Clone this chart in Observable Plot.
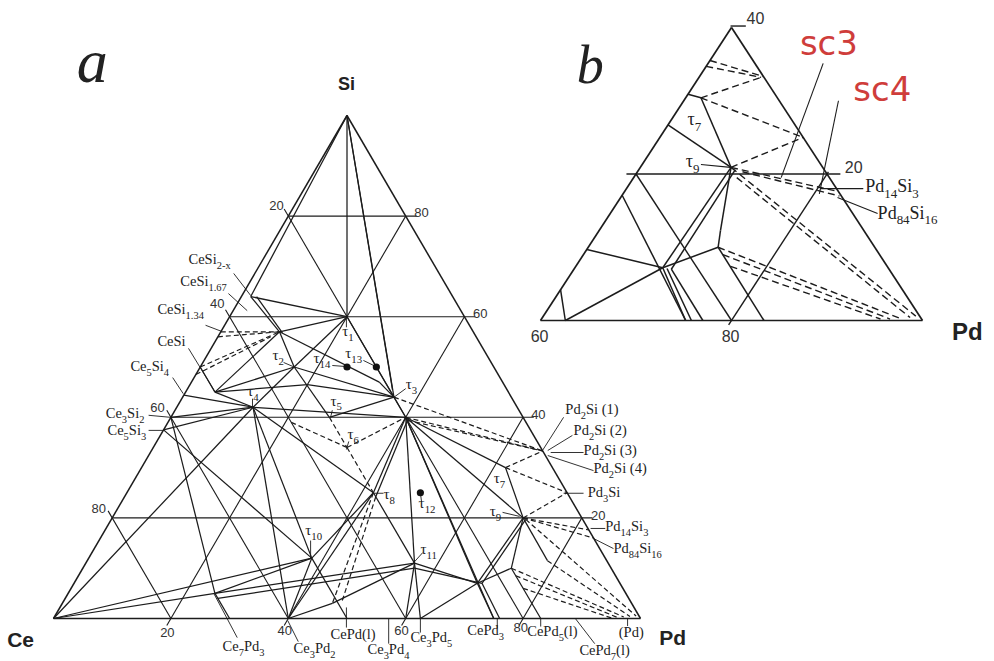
<!DOCTYPE html>
<html><head><meta charset="utf-8">
<script src="https://cdn.jsdelivr.net/npm/d3@7"></script>
<script src="https://cdn.jsdelivr.net/npm/@observablehq/plot@0.6"></script>
<style>
html,body{margin:0;padding:0;background:#fff;}
#wrap{position:relative;width:994px;height:661px;overflow:hidden;background:#fff;}
#wrap svg{position:absolute;left:0;top:0;}
</style></head><body><div id="wrap"></div>
<script>
// ================= DATA (compositions in at.% : pd, si ; Ce = rest) =================
const gridLevels = [20, 40, 60, 80];
const corners = [{id:"Ce",pd:0,si:0},{id:"Pd",pd:100,si:0},{id:"Si",pd:0,si:100}];
const ceSiPhases = [
  {id:"CeSi2x",pd:0,si:64.5},{id:"CeSi167",pd:0,si:62.5},{id:"CeSi134",pd:0,si:57},
  {id:"CeSi",pd:0,si:50},{id:"Ce5Si4",pd:0,si:44.4},{id:"Ce3Si2",pd:0,si:40},{id:"Ce5Si3",pd:0,si:37.5}];
const cePdPhases = [
  {id:"Ce7Pd3",pd:30,si:0},{id:"Ce3Pd2",pd:40,si:0},{id:"CePd",pd:50,si:0},{id:"Ce3Pd4",pd:57,si:0},
  {id:"B60",pd:60,si:0},{id:"Ce3Pd5",pd:62.5,si:0},{id:"CePd3",pd:75,si:0},{id:"CePd3b",pd:76,si:0},
  {id:"CePd5",pd:83,si:0},{id:"CePd7",pd:87.5,si:0},{id:"PdSS",pd:98,si:0}];
const pdSiPhases = [
  {id:"Pd2Si",pd:66.7,si:33.3},{id:"Pd3Si",pd:75,si:25},{id:"Pd14Si3",pd:82.4,si:17.6},{id:"Pd84Si16",pd:84,si:16}];
const tauPhases = [
  {id:"τ1",pd:20,si:60},{id:"τ2",pd:16,si:50},{id:"τ3",pd:36,si:44},{id:"τ4",pd:13,si:42},
  {id:"τ5",pd:27,si:40},{id:"τ6",pd:33,si:34},{id:"τ7",pd:62,si:30},{id:"τ8",pd:42,si:25},
  {id:"τ9",pd:70,si:20},{id:"τ10",pd:38,si:12},{id:"τ11",pd:56,si:11},{id:"τ12",pd:50,si:25},
  {id:"τ13",pd:30,si:50},{id:"τ14",pd:25,si:50},{id:"CePd2Si2",pd:40,si:40}];
const isolatedTau = ["τ12","τ13","τ14"];
// junction points of tie-lines
const nodesA = [
  {id:"S1",pd:1.6,si:64},{id:"S1b",pd:2.6,si:64},{id:"P1",pd:10,si:57},{id:"P1b",pd:10.6,si:56.8},
  {id:"P2",pd:5,si:45},{id:"P3",pd:20,si:46.5},{id:"P4",pd:32,si:47},
  {id:"N1",pd:68.7,si:7},{id:"N1b",pd:69.5,si:7},{id:"N2",pd:73,si:10},{id:"N2b",pd:74.5,si:8.5},{id:"N2c",pd:77,si:6},
  {id:"N3",pd:25,si:5},{id:"N3b",pd:26,si:4},{id:"N4",pd:46,si:3},{id:"N4b",pd:47.5,si:3.2},
  {id:"W1",pd:78.4,si:11.5},{id:"T3b",pd:35,si:45.5},{id:"T8b",pd:42.8,si:24.2},{id:"T9b",pd:70.6,si:19.7},
  {id:"T11b",pd:56.5,si:10},{id:"A2",pd:40.6,si:39.4},{id:"G1",pd:21,si:39},
  {id:"L1",pd:0,si:56},{id:"L2",pd:0,si:48.5},{id:"L3",pd:9,si:56},
  {id:"C1",pd:97,si:0.3},{id:"C2",pd:96,si:0.2},{id:"C3",pd:95,si:0.1},{id:"C4",pd:98,si:0.4},{id:"C5",pd:99,si:0.5}];
const solidA = [
  ["Si","τ1"],["Si","τ3"],["Si","T3b"],["Si","S1"],
  ["S1","τ1"],["S1","P1"],["S1b","P1b"],["P1","τ1"],["P1","τ2"],["τ2","τ5"],["P1","P4"],["P4","τ3"],["P1","P2"],
  ["CeSi","P2"],["P2","τ2"],["P2","τ4"],["P2","P3"],["P3","τ3"],
  ["Ce5Si4","τ4"],["Ce3Si2","τ4"],["Ce5Si3","τ4"],["Ce","τ4"],
  ["τ4","τ2"],["τ4","CePd2Si2"],["τ4","τ8"],["τ4","τ10"],["τ4","Ce3Pd2"],
  ["τ1","τ2"],["τ1","τ3"],["τ2","τ3"],["τ3","CePd2Si2"],["τ5","τ3"],
  ["τ8","CePd2Si2"],["T8b","A2"],["τ8","τ10"],["τ8","τ11"],["τ8","Ce3Pd2"],
  ["Ce","τ10"],["Ce5Si3","τ10"],["Ce3Si2","N3"],["τ10","Ce3Pd2"],["τ10","CePd"],["τ10","N3"],
  ["Ce","N3"],["N3","τ11"],["N3b","T11b"],["N3","Ce7Pd3"],["N4","τ11"],["Ce3Pd2","N4"],
  ["CePd2Si2","τ11"],["τ11","B60"],["τ11","Ce3Pd5"],["τ11","N1"],["T11b","N1b"],
  ["CePd2Si2","τ7"],["CePd2Si2","τ9"],["CePd2Si2","N1"],["CePd2Si2","CePd3"],
  ["τ7","τ9"],["τ9","N1"],["T9b","N1b"],["τ9","N2"],["N1","CePd3"],["N1b","CePd3b"],
  ["N2","CePd5"],["N1","N2"],["Ce3Pd5","N1"],["τ9","W1"]];
const dashedA = [
  ["CeSi134","P1"],["L1","P1"],["CeSi","P1"],["L2","L3"],
  ["τ5","τ6"],["G1","τ6"],["τ6","CePd2Si2"],["τ6","τ8"],["τ8","N4"],["T8b","N4b"],
  ["CePd2Si2","Pd2Si"],["A2","Pd2Si"],["τ3","Pd2Si"],
  ["τ7","Pd2Si"],["τ7","Pd3Si"],["τ9","Pd3Si"],["τ9","Pd14Si3"],["τ9","Pd84Si16"],
  ["N2","C1"],["N2b","C2"],["N2c","C3"],["W1","C4"],["T9b","C5"]];
// panel b : enlarged Pd-rich corner (Pd 60-100, Si 0-40)
const nodesB = [
  {id:"bT7",pd:61.6,si:30.4},{id:"bT9",pd:69.5,si:20.9},{id:"bT9r",pd:70.1,si:20.6},{id:"bN1",pd:69.2,si:7.2},
  {id:"bN1m",pd:69.7,si:7.1},{id:"bN1r",pd:70.2,si:7},{id:"bN2",pd:73.6,si:10},{id:"bW",pd:72.7,si:12.3},
  {id:"e355",pd:60,si:35.5},{id:"e347",pd:60,si:34.7},{id:"e309",pd:60,si:30.9},{id:"e267",pd:60,si:26.7},
  {id:"e171",pd:60,si:17.1},{id:"e97",pd:60,si:9.7},{id:"e42",pd:60,si:4.2},
  {id:"bCe3Pd5",pd:62.6,si:0},{id:"bCePd3",pd:75.2,si:0},{id:"bCePd3m",pd:75.8,si:0},{id:"bCePd3r",pd:77,si:0},
  {id:"bCePd5",pd:83.4,si:0},{id:"bQ1",pd:66.5,si:33.2},{id:"bQ2",pd:71,si:20.3},{id:"bQ3",pd:82.8,si:17},
  {id:"bQ4",pd:70.8,si:19.5},{id:"bQ5",pd:74.6,si:9},{id:"bQ6",pd:76.2,si:7.4},
  {id:"bC1",pd:99,si:0.6},{id:"bC2",pd:98.5,si:0.4},{id:"bC3",pd:97.5,si:0.3},{id:"bC4",pd:96.5,si:0.2},{id:"bC5",pd:95.5,si:0.2},
  {id:"b600",pd:60,si:0},{id:"b1000",pd:100,si:0},{id:"b6040",pd:60,si:40}];
const edgesB = [["b600","b1000"],["b1000","b6040"],["b6040","b600"]];
const solidB = [
  ["e309","bT7"],["bT7","bT9"],["e267","bT9"],["bT9","bW"],["bW","bN2"],["bT9","bN1"],["bT9r","bN1r"],
  ["bN1","bCePd3"],["bN1m","bCePd3m"],["bN1r","bCePd3r"],["e97","bN1"],["bN1","bN2"],["bN2","bCePd5"],
  ["e42","bCe3Pd5"],["bCe3Pd5","bN1"],["e171","bCePd3"]];
const dashedB = [
  ["e355","Pd2Si"],["e347","bQ1"],["bT7","Pd2Si"],["bT7","Pd3Si"],["bT9","Pd3Si"],["bT9","Pd14Si3"],["bQ2","bQ3"],
  ["bT9","bC1"],["bQ4","bC2"],["bN2","bC3"],["bQ5","bC4"],["bQ6","bC5"]];

// ================= LAYOUT (label anchors in ternary x = pd + si/2, y = si) =================
const labelsA = [
  {t:"CeSi_{2-x}",X:23,S:71.4},{t:"CeSi_{1.67}",X:21.6,S:67},{t:"CeSi_{1.34}",X:17.7,S:61.4},
  {t:"CeSi",X:17.7,S:55.1},{t:"Ce_5Si_4",X:13.1,S:50.1},{t:"Ce_3Si_2",X:8.9,S:40.8},{t:"Ce_5Si_3",X:9.2,S:37.4},
  {t:"Ce_7Pd_3",X:28.8,S:-5.6},{t:"Ce_3Pd_2",X:40.9,S:-6},{t:"CePd(l)",X:47.2,S:-3.2},{t:"Ce_3Pd_4",X:53.5,S:-6.2},
  {t:"Ce_3Pd_5",X:60.8,S:-3.8},{t:"CePd_3",X:70.5,S:-2.4},{t:"CePd_5(l)",X:80.7,S:-2.6},
  {t:"CePd_7(l)",X:89.6,S:-6.4},{t:"(Pd)",X:96.3,S:-2.7},
  {t:"Pd_2Si (1)",X:87.2,S:41.6},{t:"Pd_2Si (2)",X:88.6,S:37.4},{t:"Pd_2Si (3)",X:90.3,S:33.4},
  {t:"Pd_2Si (4)",X:92,S:29.8},{t:"Pd_3Si",X:91,S:25},{t:"Pd_{14}Si_3",X:94,S:18.3},{t:"Pd_{84}Si_{16}",X:95.4,S:13.9}];
const tauLabelsA = [
  {t:"τ_1",X:49.2,S:57.1},{t:"τ_2",X:37.3,S:52.3},{t:"τ_3",X:60,S:46.5},{t:"τ_4",X:33,S:45.1},
  {t:"τ_5",X:47.2,S:43.3},{t:"τ_6",X:50.1,S:36.6},{t:"τ_7",X:75,S:27.8},{t:"τ_8",X:56.2,S:24.7},
  {t:"τ_9",X:74.3,S:21.3},{t:"τ_{10}",X:42.9,S:17.5},{t:"τ_{11}",X:62.5,S:13.7},{t:"τ_{12}",X:62.2,S:22.9},
  {t:"τ_{13}",X:49.7,S:52.7},{t:"τ_{14}",X:44.3,S:51.7}];
const tickPosA = {left:[[38,82.1],[27.9,62.6],[17.7,41.9],[7.7,21.9]],
                  right:[[62.7,80.7],[72.7,60.6],[82.6,40.4],[92.8,20.5]],
                  bottom:[[19.4,-2.8],[39.4,-2.4],[59.3,-2.4],[79.6,-1.8]]};
const leadersA = [
  [30.7,68.6,33.6,64.2],[29.8,64.6,33.0,61.2],[25.9,58.3,28.6,57.1],[23.0,53.7,27.6,44.9],[20.3,47.9,22.1,44.7],
  [16.2,40.4,19.9,40.0],[16.2,37.4,18.7,37.4],[31.3,-3.8,27.3,5.0],[41.7,-4.6,39.9,-0.4],[49.9,2.2,49.9,-1.8],
  [57.1,0,57.1,-5],[62.5,0,62.5,-2.8],[75.6,0,75.6,-2],[83,0,83,-1.6],[88.9,0,92.2,-5],[97.8,0,97.8,-1.5],
  [83.3,33.4,86.9,40],[84.2,33.4,88.4,36.4],[84.7,33,90.3,33],[84.2,32.4,92,29.4],[86.9,24.9,90.3,24.9],
  [91.5,17.9,94,17.9],[92,15.9,95.4,13.9],
  [49.9,60,49.9,57.9],[39.2,50.9,41.2,49.9],[47.5,50.3,49.7,50.1],[52.8,51.3,54.9,50.1],[57.9,43.9,60,45.7],
  [33.9,43.7,33.9,41.9],[47.5,41.4,47.2,40],[49.9,33.6,50.3,35.2],[54.5,24.9,56.2,24.9],[76.5,21.1,79.4,20.3],
  [43.8,15.5,43.8,11.9],[61.2,10.9,62.9,13.1],[62.5,25,62.7,23.2]];
const labelsB = [{t:"τ_7",X:75.4,S:27.5},{t:"τ_9",X:75.2,S:21.7},{t:"Pd_{14}Si_3",X:94,S:18.3},{t:"Pd_{84}Si_{16}",X:95.3,S:14.7}];
const sectionsB = [{t:"sc3",X:90.2,S:37.8},{t:"sc4",X:95.8,S:31.5}];
const ticksB = [{t:"40",X:82.5,S:41.2},{t:"20",X:92.8,S:20.9},{t:"60",X:59.9,S:-2.2},{t:"80",X:79.9,S:-2.2}];
const leadersB = [[76.8,21.3,79.9,20.9],[89.6,35.1,85.2,19.5],[91.2,30,89.2,17.3],[89.3,18,93.8,18],[91.1,16.8,95.3,14.6]];

// ================= BUILD =================
const TX = d => d.pd + d.si / 2;
const lookup = new Map([...corners, ...ceSiPhases, ...cePdPhases, ...pdSiPhases, ...tauPhases, ...nodesA, ...nodesB].map(d => [d.id, d]));
const seg = pairs => pairs.map(([a, b]) => { const p = lookup.get(a), q = lookup.get(b); return {x1: TX(p), y1: p.si, x2: TX(q), y2: q.si}; });
const tern = ([pd1, si1], [pd2, si2]) => ({x1: pd1 + si1/2, y1: si1, x2: pd2 + si2/2, y2: si2});
const lead = L => L.map(([a,b,c,d]) => ({x1:a,y1:b,x2:c,y2:d}));

// grid lines with small tick extensions beyond the sides
const ext = 1.4;
const gridA = gridLevels.flatMap(v => [
  tern([0, v], [100 - v + ext*1.3, v]),            // Si = v
  tern([-ext, 100 - v + ext], [100 - v, 0]),       // Ce = v
  tern([v, -ext], [v, 100 - v])                    // Pd = v
]);
const gridB = [tern([59, 20], [81.4, 20]), tern([80, -0.6], [80, 20.3]), tern([60, 20], [80, 0]), tern([59.8, 40.2], [61.4, 40.2])];

const INK = "#1c1c1c";
const serif = "Liberation Serif, Times New Roman, serif";
const sans = "Liberation Sans, Arial, sans-serif";
const xyl = {x1:"x1", y1:"y1", x2:"x2", y2:"y2"};

const plotA = Plot.plot({
  width: 994, height: 661,
  x: {domain: [0, 100], range: [53, 640], axis: null},
  y: {domain: [0, 100], range: [618, 115], axis: null},
  style: {background: "transparent", overflow: "visible"},
  marks: [
    Plot.link(gridA, {...xyl, stroke: INK, strokeWidth: 1.1}),
    Plot.link(seg([["Ce","Pd"],["Pd","Si"],["Si","Ce"]]), {...xyl, stroke: INK, strokeWidth: 1.5}),
    Plot.link(seg(solidA), {...xyl, stroke: INK, strokeWidth: 1.25}),
    Plot.link(seg(dashedA), {...xyl, stroke: INK, strokeWidth: 1.2, strokeDasharray: "5,3"}),
    Plot.link(lead(leadersA), {...xyl, stroke: INK, strokeWidth: 0.9}),
    Plot.dot(isolatedTau.map(id => lookup.get(id)), {x: TX, y: "si", r: 3.6, fill: "#111", stroke: "none"}),
    Plot.text(labelsA, {x: "X", y: "S", text: "t", textAnchor: "start", lineAnchor: "middle", fontSize: 14.5, fontFamily: serif, fill: "#222"}),
    Plot.text(tauLabelsA, {x: "X", y: "S", text: "t", textAnchor: "start", lineAnchor: "middle", fontSize: 15, fontFamily: serif, fill: "#222"}),
    Plot.text(gridLevels.map((v, i) => ({t: String(v), p: tickPosA.left[i]})), {x: d => d.p[0], y: d => d.p[1], text: "t", fontSize: 13, fontFamily: sans, fill: "#333"}),
    Plot.text(gridLevels.map((v, i) => ({t: String(100 - v), p: tickPosA.right[i]})), {x: d => d.p[0], y: d => d.p[1], text: "t", fontSize: 13, fontFamily: sans, fill: "#333"}),
    Plot.text(gridLevels.map((v, i) => ({t: String(v), p: tickPosA.bottom[i]})), {x: d => d.p[0], y: d => d.p[1], text: "t", fontSize: 13, fontFamily: sans, fill: "#333"}),
    Plot.text([{t:"Si",X:49.9,S:106.2}], {x:"X", y:"S", text:"t", fontSize: 18, fontWeight: "bold", fontFamily: sans, fill: "#222"}),
    Plot.text([{t:"Ce",X:-5.6,S:-4.4},{t:"Pd",X:105.5,S:-4}], {x:"X", y:"S", text:"t", fontSize: 21, fontWeight: "bold", fontFamily: sans, fill: "#222"}),
    Plot.text([{t:"a",X:6.6,S:110.6}], {x:"X", y:"S", text:"t", fontSize: 62, fontStyle: "italic", fontFamily: serif, fill: "#222"})
  ]
});

const plotB = Plot.plot({
  width: 994, height: 661,
  x: {domain: [60, 100], range: [540, 922], axis: null},
  y: {domain: [0, 40], range: [320, 27], axis: null},
  style: {background: "transparent", overflow: "visible"},
  marks: [
    Plot.link(gridB, {...xyl, stroke: INK, strokeWidth: 1.4}),
    Plot.link(seg(edgesB), {...xyl, stroke: INK, strokeWidth: 1.7}),
    Plot.link(seg(solidB), {...xyl, stroke: INK, strokeWidth: 1.5}),
    Plot.link(seg(dashedB), {...xyl, stroke: INK, strokeWidth: 1.4, strokeDasharray: "7,4"}),
    Plot.link(lead(leadersB), {...xyl, stroke: INK, strokeWidth: 1.1}),
    Plot.text(labelsB, {x: "X", y: "S", text: "t", textAnchor: "start", lineAnchor: "middle", fontSize: 18, fontFamily: serif, fill: "#222"}),
    Plot.text(ticksB, {x: "X", y: "S", text: "t", fontSize: 16, fontFamily: sans, fill: "#333"}),
    Plot.text(sectionsB, {x: "X", y: "S", text: "t", fontSize: 34, fontFamily: "DejaVu Sans, sans-serif", fill: "#cf3d3b"}),
    Plot.text([{t:"Pd",X:104.7,S:-1.6}], {x:"X", y:"S", text:"t", fontSize: 24, fontWeight: "bold", fontFamily: sans, fill: "#222"}),
    Plot.text([{t:"b",X:65.2,S:34.8}], {x:"X", y:"S", text:"t", fontSize: 54, fontStyle: "italic", fontFamily: serif, fill: "#222"})
  ]
});

const wrap = document.getElementById("wrap");
wrap.appendChild(plotA);
wrap.appendChild(plotB);

// subscripts: "_x" or "_{xyz}" -> lowered smaller tspans
function applySubs(svg) {
  svg.querySelectorAll("text").forEach(t => {
    const s = t.textContent;
    if (!s.includes("_")) return;
    const fs = parseFloat(getComputedStyle(t).fontSize) || 14;
    const re = /_\{([^}]*)\}|_(.)|([^_]+)/g;
    while (t.firstChild) t.removeChild(t.firstChild);
    let cur = 0, m;
    while ((m = re.exec(s))) {
      const sub = m[1] !== undefined ? m[1] : m[2];
      const isSub = sub !== undefined;
      const txt = isSub ? sub : m[3];
      const off = isSub ? fs * 0.32 : 0;
      const ts = document.createElementNS("http://www.w3.org/2000/svg", "tspan");
      if (off !== cur) ts.setAttribute("dy", (off - cur).toFixed(2));
      if (isSub) ts.setAttribute("font-size", (fs * 0.72).toFixed(2));
      ts.textContent = txt;
      t.appendChild(ts);
      cur = off;
    }
  });
}
applySubs(plotA);
applySubs(plotB);
</script>
</body></html>
